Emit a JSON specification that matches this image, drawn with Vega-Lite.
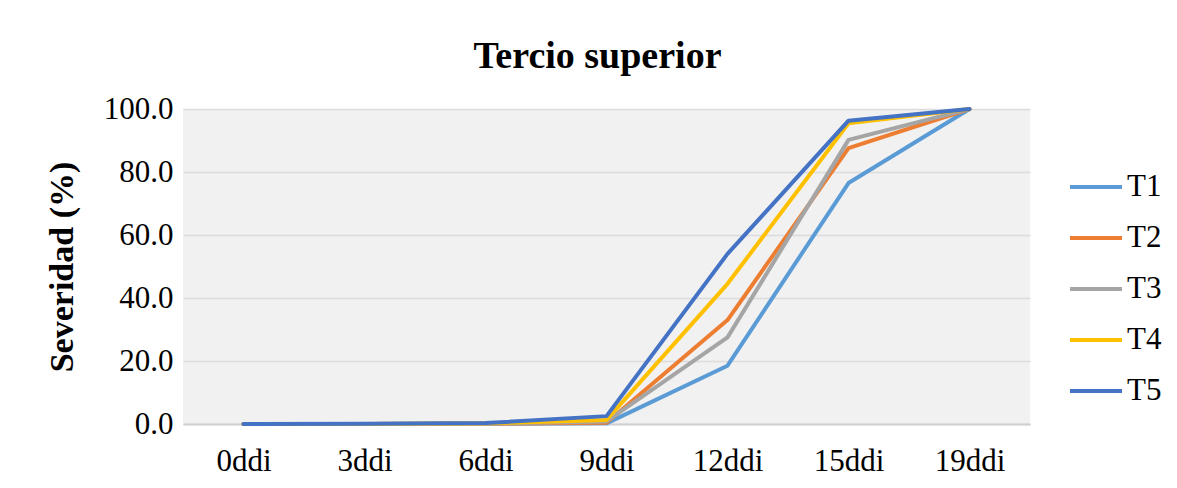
{
  "$schema": "https://vega.github.io/schema/vega-lite/v6.json",
  "autosize": "none",
  "width": 847,
  "height": 315,
  "padding": {"left": 183, "top": 109, "right": 147, "bottom": 64},
  "background": "white",
  "title": {"text": "Tercio superior", "font": "Liberation Serif", "fontSize": 38, "fontWeight": "bold", "color": "#000000", "offset": 17, "dx": -9, "anchor": "middle"},
  "data": {"values": [
    {"t": "T1", "d": "0ddi", "v": 0}, {"t": "T1", "d": "3ddi", "v": 0}, {"t": "T1", "d": "6ddi", "v": 0.1}, {"t": "T1", "d": "9ddi", "v": 0.2}, {"t": "T1", "d": "12ddi", "v": 18.5}, {"t": "T1", "d": "15ddi", "v": 76.5}, {"t": "T1", "d": "19ddi", "v": 100},
    {"t": "T2", "d": "0ddi", "v": 0}, {"t": "T2", "d": "3ddi", "v": 0}, {"t": "T2", "d": "6ddi", "v": 0.1}, {"t": "T2", "d": "9ddi", "v": 0.4}, {"t": "T2", "d": "12ddi", "v": 33.0}, {"t": "T2", "d": "15ddi", "v": 87.6}, {"t": "T2", "d": "19ddi", "v": 100},
    {"t": "T3", "d": "0ddi", "v": 0}, {"t": "T3", "d": "3ddi", "v": 0}, {"t": "T3", "d": "6ddi", "v": 0.1}, {"t": "T3", "d": "9ddi", "v": 0.8}, {"t": "T3", "d": "12ddi", "v": 27.5}, {"t": "T3", "d": "15ddi", "v": 90.2}, {"t": "T3", "d": "19ddi", "v": 100},
    {"t": "T4", "d": "0ddi", "v": 0}, {"t": "T4", "d": "3ddi", "v": 0}, {"t": "T4", "d": "6ddi", "v": 0.2}, {"t": "T4", "d": "9ddi", "v": 1.3}, {"t": "T4", "d": "12ddi", "v": 44.5}, {"t": "T4", "d": "15ddi", "v": 95.5}, {"t": "T4", "d": "19ddi", "v": 100},
    {"t": "T5", "d": "0ddi", "v": 0}, {"t": "T5", "d": "3ddi", "v": 0.1}, {"t": "T5", "d": "6ddi", "v": 0.3}, {"t": "T5", "d": "9ddi", "v": 2.5}, {"t": "T5", "d": "12ddi", "v": 54.0}, {"t": "T5", "d": "15ddi", "v": 96.3}, {"t": "T5", "d": "19ddi", "v": 100}
  ]},
  "mark": {"type": "line", "strokeWidth": 4, "strokeCap": "round", "strokeJoin": "round"},
  "encoding": {
    "x": {"field": "d", "type": "ordinal", "sort": ["0ddi", "3ddi", "6ddi", "9ddi", "12ddi", "15ddi", "19ddi"],
      "scale": {"type": "point", "padding": 0.5},
      "axis": {"title": null, "labelAngle": 0, "labelFont": "Liberation Serif", "labelFontSize": 31, "labelColor": "#000000", "labelPadding": 22, "ticks": false, "domain": true, "domainColor": "#d0d0d0", "domainWidth": 2, "grid": false}},
    "y": {"field": "v", "type": "quantitative", "scale": {"domain": [0, 100], "nice": false},
      "axis": {"title": "Severidad (%)", "titleFont": "Liberation Serif", "titleFontSize": 34, "titleFontWeight": "bold", "titleColor": "#000000", "titlePadding": 24,
        "values": [0, 20, 40, 60, 80, 100], "format": ".1f", "labelFont": "Liberation Serif", "labelFontSize": 31, "labelColor": "#000000", "labelPadding": 10,
        "ticks": false, "domain": false, "grid": true, "gridColor": "#dcdcdc", "gridWidth": 1.5}},
    "color": {"field": "t", "type": "nominal",
      "scale": {"domain": ["T1", "T2", "T3", "T4", "T5"], "range": ["#5B9BD5", "#ED7D31", "#A5A5A5", "#FFC000", "#4472C4"]},
      "legend": {"title": null, "orient": "none", "legendX": 885, "legendY": 50, "symbolType": "stroke", "symbolSize": 2700, "symbolStrokeWidth": 4, "labelFont": "Liberation Serif", "labelFontSize": 31, "labelColor": "#000000", "rowPadding": 8, "labelOffset": 3}}
  },
  "config": {"view": {"fill": "#f1f1f1", "stroke": null}}
}
